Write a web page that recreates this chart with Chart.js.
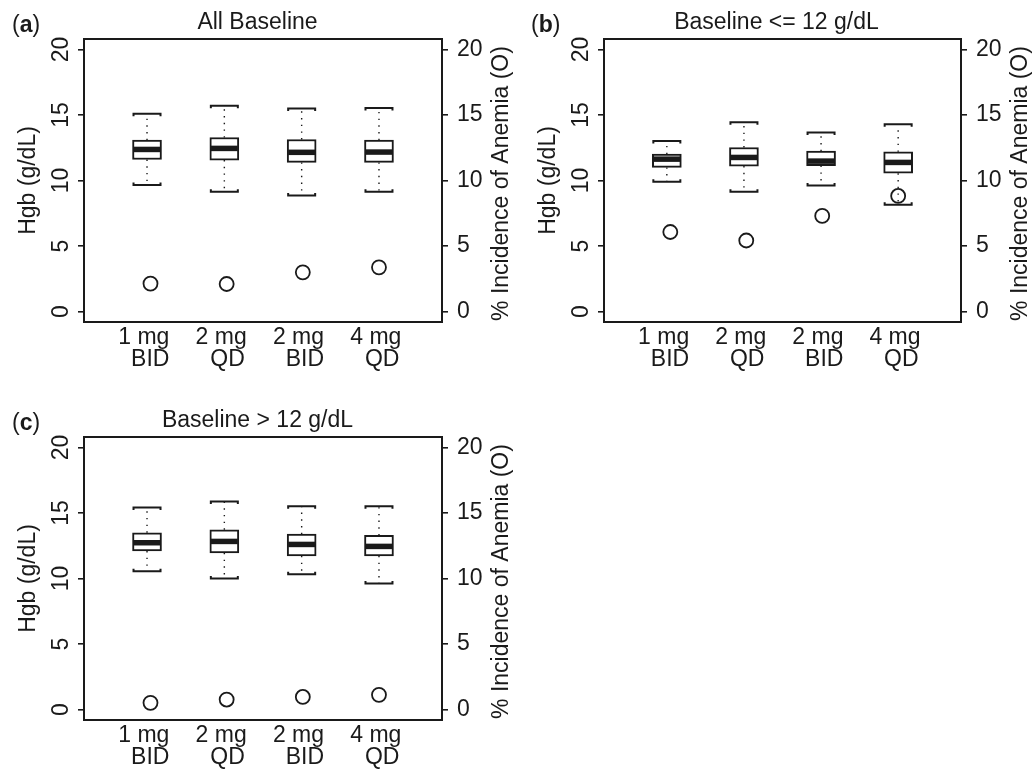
<!DOCTYPE html>
<html>
<head>
<meta charset="utf-8">
<script src="https://cdn.jsdelivr.net/npm/chart.js@4.4.0/dist/chart.umd.min.js"></script>
<style>
  body { margin: 0; background: #fff; }
  #wrap { position: relative; width: 1033px; height: 769px; overflow: hidden; font-family: 'Liberation Sans', Arial, sans-serif; }
  canvas { position: absolute; }
  .tag { position: absolute; font-size: 23px; line-height: 26px; color: #1a1a1a; }
</style>
</head>
<body>
<div id="wrap">
  <canvas id="pa" width="515" height="380" style="left:0;top:0"></canvas>
  <canvas id="pb" width="513" height="380" style="left:520px;top:0"></canvas>
  <canvas id="pc" width="515" height="371" style="left:0;top:398px"></canvas>
  <div class="tag" style="left:12px;top:11px">(<b>a</b>)</div>
  <div class="tag" style="left:531px;top:11px">(<b>b</b>)</div>
  <div class="tag" style="left:12px;top:409px">(<b>c</b>)</div>
</div>
<script>
// categories (trailing / leading spaces as in the original labels)
const categories = [['1 mg ', ' BID'], ['2 mg ', ' QD'], ['2 mg ', ' BID'], ['4 mg ', ' QD']];
const xPos = [1, 2, 3, 4];
const incX = [1.045, 2.03, 3.015, 4.0];
const yTicks = [0, 5, 10, 15, 20];

// (a) All Baseline
const lowA  = [9.66, 9.15, 8.85, 9.15];
const q1A   = [11.6, 11.56, 11.38, 11.38];
const medA  = [12.37, 12.45, 12.15, 12.17];
const q3A   = [13.08, 13.28, 13.13, 13.08];
const highA = [15.1, 15.7, 15.49, 15.54];
const incA  = [2.13, 2.1, 2.99, 3.37];

// (b) Baseline <= 12 g/dL
const lowB  = [9.91, 9.15, 9.61, 8.14];
const q1B   = [11.0, 11.1, 11.13, 10.55];
const medB  = [11.63, 11.76, 11.48, 11.38];
const q3B   = [12.02, 12.52, 12.24, 12.19];
const highB = [13.02, 14.45, 13.66, 14.3];
const incB  = [6.07, 5.42, 7.3, 8.82];

// (c) Baseline > 12 g/dL
const lowC  = [10.55, 10.0, 10.33, 9.62];
const q1C   = [12.1, 11.95, 11.72, 11.72];
const medC  = [12.73, 12.83, 12.6, 12.45];
const q3C   = [13.49, 13.72, 13.39, 13.29];
const highC = [15.41, 15.87, 15.52, 15.52];
const incC  = [0.51, 0.76, 0.96, 1.12];

const ink = '#1a1a1a';
const family = "'Liberation Sans', Arial, sans-serif";
const fs = 23;

function makePanel(id, title, low, q1, med, q3, high, inc, rightW) {
  const el = document.getElementById(id);
  const H = el.height;
  const half = 14.5;

  const boxPlugin = {
    id: 'boxbits',
    beforeDatasetsDraw(chart) {
      const {ctx, scales: {x, y}} = chart;
      ctx.save();
      ctx.strokeStyle = ink;
      xPos.forEach((v, i) => {
        const px = x.getPixelForValue(v);
        const yLo = y.getPixelForValue(low[i]);
        const yQ1 = y.getPixelForValue(q1[i]);
        const yQ3 = y.getPixelForValue(q3[i]);
        const yHi = y.getPixelForValue(high[i]);
        ctx.lineWidth = 1.4;
        ctx.setLineDash([1.4, 5.3]);
        ctx.beginPath();
        ctx.moveTo(px, yQ3); ctx.lineTo(px, yHi);
        ctx.moveTo(px, yQ1); ctx.lineTo(px, yLo);
        ctx.stroke();
        ctx.setLineDash([]);
        ctx.lineWidth = 2;
        ctx.beginPath();
        ctx.moveTo(px - half + 1, yHi + 2.5); ctx.lineTo(px - half + 1, yHi);
        ctx.lineTo(px + half - 1, yHi); ctx.lineTo(px + half - 1, yHi + 2.5);
        ctx.moveTo(px - half + 1, yLo - 2.5); ctx.lineTo(px - half + 1, yLo);
        ctx.lineTo(px + half - 1, yLo); ctx.lineTo(px + half - 1, yLo - 2.5);
        ctx.stroke();
      });
      ctx.restore();
    },
    afterDatasetsDraw(chart) {
      const {ctx, scales: {x, y}} = chart;
      ctx.save();
      ctx.strokeStyle = ink;
      ctx.lineWidth = 5.5;
      xPos.forEach((v, i) => {
        const px = x.getPixelForValue(v);
        const ym = y.getPixelForValue(med[i]);
        ctx.beginPath();
        ctx.moveTo(px - half + 1, ym); ctx.lineTo(px + half - 1, ym);
        ctx.stroke();
      });
      ctx.restore();
    },
    afterDraw(chart) {
      const {ctx, chartArea: a} = chart;
      ctx.save();
      ctx.strokeStyle = ink;
      ctx.lineWidth = 2;
      ctx.strokeRect(a.left, a.top, a.right - a.left, a.bottom - a.top);
      // right axis title reads bottom-to-top
      ctx.translate(a.right + 60, (a.top + a.bottom) / 2 + 3);
      ctx.rotate(-Math.PI / 2);
      ctx.fillStyle = ink;
      ctx.font = fs + 'px ' + family;
      ctx.textAlign = 'center';
      ctx.textBaseline = 'middle';
      ctx.fillText('% Incidence of Anemia (O)', 0, 0);
      ctx.restore();
    }
  };

  const yAxis = (pos, pad) => ({
    position: pos,
    min: -0.8,
    max: 20.8,
    bounds: 'data',
    grid: { drawOnChartArea: false, tickLength: 6, color: ink, lineWidth: 1.6 },
    border: { display: false },
    afterBuildTicks: s => { s.ticks = yTicks.map(v => ({value: v})); },
    ticks: { autoSkip: false, padding: pad, color: ink, font: { family: family, size: fs } }
  });

  const yLeft = yAxis('left', 4);
  yLeft.ticks.minRotation = 90;
  yLeft.ticks.maxRotation = 90;
  yLeft.ticks.crossAlign = 'center';
  yLeft.afterFit = s => { s.width = 84; };
  yLeft.title = { display: true, text: 'Hgb (g/dL)', color: ink, font: { family: family, size: fs }, padding: { top: 15, bottom: 0 } };

  const yRight = yAxis('right', 9);
  yRight.afterFit = s => { s.width = rightW; };

  new Chart(el, {
    type: 'bar',
    data: {
      datasets: [
        {
          type: 'line',
          label: '% Incidence of Anemia',
          data: incX.map((v, i) => ({x: v, y: inc[i]})),
          yAxisID: 'y2',
          showLine: false,
          pointRadius: 7,
          pointHoverRadius: 7,
          pointBorderWidth: 1.8,
          pointBorderColor: ink,
          pointBackgroundColor: 'rgba(0,0,0,0)'
        },
        {
          type: 'bar',
          label: 'Hgb',
          data: xPos.map((v, i) => ({x: v, y: [q1[i], q3[i]]})),
          yAxisID: 'y',
          backgroundColor: '#fff',
          borderColor: ink,
          borderWidth: 2,
          borderSkipped: false,
          barThickness: 29
        }
      ]
    },
    options: {
      responsive: false,
      animation: false,
      events: [],
      layout: { padding: 0 },
      plugins: {
        legend: { display: false },
        tooltip: { enabled: false },
        title: {
          display: true,
          text: title,
          color: ink,
          font: { family: family, size: fs, weight: 'normal' },
          padding: { top: 9.2, bottom: 2.2 }
        }
      },
      scales: {
        x: {
          type: 'linear',
          min: 0.185,
          max: 4.815,
          bounds: 'data',
          offset: false,
          grid: { display: false, drawTicks: false, offset: false },
          border: { display: false },
          afterBuildTicks: s => { s.ticks = xPos.map(v => ({value: v})); },
          afterFit: s => { s.height = H - 322; },
          ticks: {
            autoSkip: false,
            maxRotation: 0,
            padding: 4,
            color: ink,
            font: { family: family, size: fs, lineHeight: 0.98 },
            callback: v => categories[Math.round(v) - 1]
          }
        },
        y: yLeft,
        y2: yRight
      }
    },
    plugins: [boxPlugin]
  });
}

makePanel('pa', 'All Baseline', lowA, q1A, medA, q3A, highA, incA, 73);
makePanel('pb', 'Baseline <= 12 g/dL', lowB, q1B, medB, q3B, highB, incB, 72);
makePanel('pc', 'Baseline > 12 g/dL', lowC, q1C, medC, q3C, highC, incC, 73);
</script>
</body>
</html>
